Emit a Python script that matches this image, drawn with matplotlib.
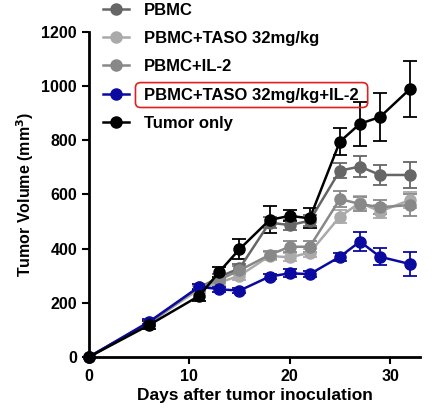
import numpy as np
import matplotlib
matplotlib.use("Agg")
import matplotlib.pyplot as plt
from matplotlib.patches import FancyBboxPatch

plt.rcParams['font.family'] = ['Liberation Sans', 'DejaVu Sans']
plt.rcParams['font.weight'] = 'bold'

days = [0, 6, 11, 13, 15, 18, 20, 22, 25, 27, 29, 32]

pbmc = [0, 125, 255, 296, 327, 496, 487, 503, 688, 703, 672, 672]
pbmc_err = [0, 10, 12, 12, 15, 20, 20, 20, 28, 40, 36, 49]

taso = [0, 128, 250, 275, 300, 373, 368, 385, 518, 570, 537, 580]
taso_err = [0, 10, 12, 12, 15, 15, 15, 15, 25, 25, 25, 30]

il2 = [0, 127, 258, 285, 320, 377, 407, 407, 583, 565, 553, 561]
il2_err = [0, 10, 12, 12, 15, 15, 20, 20, 30, 25, 25, 40]

combo = [0, 130, 260, 250, 245, 297, 309, 306, 370, 426, 370, 343]
combo_err = [0, 10, 10, 10, 10, 10, 15, 10, 15, 35, 32, 43]

tumor = [0, 118, 226, 315, 398, 506, 521, 512, 795, 861, 886, 990]
tumor_err = [0, 15, 20, 18, 37, 50, 20, 37, 49, 82, 90, 103]

names = ['PBMC', 'PBMC+TASO 32mg/kg', 'PBMC+IL-2',
         'PBMC+TASO 32mg/kg+IL-2', 'Tumor only']
colors = ['#666666', '#aaaaaa', '#888888', '#0a0aa0', '#000000']
series = [(pbmc, pbmc_err), (taso, taso_err), (il2, il2_err),
          (combo, combo_err), (tumor, tumor_err)]

fig = plt.figure(figsize=(4.4, 4.12), dpi=100)
ax = fig.add_axes([0.202, 0.1335, 0.753, 0.789])

for (y, e), c, n in zip(series, colors, names):
    ax.errorbar(days, y, yerr=e, color=c, ecolor=c, marker='o', markersize=8,
                linewidth=1.8, elinewidth=1.3, capsize=5, capthick=1.3,
                label=n, clip_on=False)

ax.set_xlim(0, 33)
ax.set_ylim(0, 1200)
ax.set_xticks([0, 10, 20, 30])
ax.set_yticks(range(0, 1201, 200))
for s in ['top', 'right']:
    ax.spines[s].set_visible(False)
for s in ['left', 'bottom']:
    ax.spines[s].set_linewidth(2)
ax.tick_params(width=1.5, length=5, labelsize=11.5)
for t in ax.get_xticklabels() + ax.get_yticklabels():
    t.set_fontweight('bold')
ax.set_xlabel('Days after tumor inoculation', fontsize=12.5, fontweight='bold', labelpad=3)
ax.set_ylabel('Tumor Volume (mm$^\\mathbf{3}$)', fontsize=11.5, fontweight='bold')

handles, labels = ax.get_legend_handles_labels()
handles = [h[0] for h in handles]
leg = fig.legend(handles, labels, loc='upper left', bbox_to_anchor=(0.218, 1.01),
                 frameon=False, fontsize=12, handlelength=1.6, labelspacing=0.8,
                 handletextpad=0.9, borderaxespad=0)
for t in leg.get_texts():
    t.set_fontweight('bold')

fig.canvas.draw()
bb = leg.get_texts()[3].get_window_extent().transformed(fig.transFigure.inverted())
pad_x, pad_y = 0.02, 0.012
box = FancyBboxPatch((bb.x0 - pad_x, bb.y0 - pad_y), bb.width + 2 * pad_x, bb.height + 2 * pad_y,
                     boxstyle='round,pad=0,rounding_size=0.012', transform=fig.transFigure,
                     fill=False, edgecolor='#e02020', linewidth=1.2)
fig.add_artist(box)

fig.savefig('out.png', dpi=100)
